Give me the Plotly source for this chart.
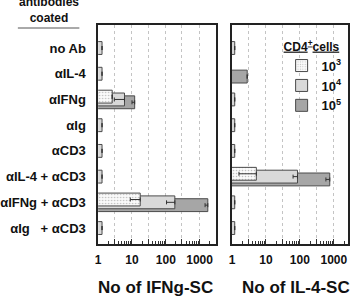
import plotly.graph_objects as go

W, H = 354, 298

rows = ["no Ab", "αIL-4", "αIFNg", "αIg", "αCD3", "αIL-4 + αCD3",
        "αIFNg + αCD3", "αIg\u00a0\u00a0\u00a0+ αCD3"]
row_pos = list(range(len(rows)))

# No of IFNg-SC (panel 1)
ifng_1e3 = [0, 0, 2.6, 0, 0, 0, 17.5, 0]
ifng_1e4 = [1.3, 1.3, 6.0, 1.3, 1.3, 1.3, 185, 1.3]
ifng_1e5 = [0, 0, 12, 0, 0, 0, 1750, 0]
ifng_1e3_err = [0, 0, 0, 0, 0, 0, 8.6, 0]
ifng_1e4_err = [0, 0, 3.0, 0, 0, 0, 80, 0]
ifng_1e5_err = [0, 0, 2.0, 0, 0, 0, 300, 0]

# No of IL-4-SC (panel 2)
il4_1e3 = [0, 0, 0, 0, 0, 5.2, 0, 0]
il4_1e4 = [1.2, 0, 1.2, 1.2, 1.2, 85, 1.2, 1.2]
il4_1e5 = [0, 2.8, 0, 0, 0, 760, 0, 0]
il4_1e3_err = [0, 0, 0, 0, 0, 3.6, 0, 0]
il4_1e4_err = [0, 0, 0, 0, 0, 22, 0, 0]
il4_1e5_err = [0, 0, 0, 0, 0, 175, 0, 0]

series_names = ["10<sup>3</sup>", "10<sup>4</sup>", "10<sup>5</sup>"]
x_ticks = [1, 3, 10, 30, 100, 300, 1000]
x_ticktext = ["1", "", "10", "", "100", "", "1000"]
minor_ticks = [2, 4, 5, 6, 7, 8, 9, 20, 40, 50, 60, 70, 80, 90,
               200, 400, 500, 600, 700, 800, 900, 2000, 3000]

FONT = "Liberation Sans, Arial, Helvetica, sans-serif"

styles = [
    dict(pattern=dict(shape=".", fgcolor="#bdbdbd", bgcolor="#fafafa", size=3, solidity=0.2, fillmode="replace")),
    dict(color="#d9d9d9"),
    dict(color="#a6a6a6"),
]
offsets = [-0.36, -0.25, -0.14]

fig = go.Figure()

panels = [
    ("x", "y", [ifng_1e3, ifng_1e4, ifng_1e5], [ifng_1e3_err, ifng_1e4_err, ifng_1e5_err], True),
    ("x2", "y2", [il4_1e3, il4_1e4, il4_1e5], [il4_1e3_err, il4_1e4_err, il4_1e5_err], False),
]

for xa, ya, vals, errs, show in panels:
    for i in [2, 1, 0]:  # draw 10^5 at back, 10^3 in front
        fig.add_trace(go.Bar(
            y=row_pos, x=vals[i], orientation="h",
            xaxis=xa, yaxis=ya,
            name=series_names[i], legendrank=i + 1,
            showlegend=show,
            width=0.5, offset=offsets[i],
            marker=dict(line=dict(color="#4a4a4a", width=1), **styles[i]),
            error_x=dict(type="data", symmetric=False, array=[0] * len(rows),
                         arrayminus=errs[i], color="#333333", thickness=1, width=2),
        ))

def px_x(p):
    return p / W

def px_y(p):
    return 1 - p / H

yrange = [7.62, -0.895]
xaxis_common = dict(
    type="log", tickmode="array", tickvals=x_ticks, ticktext=x_ticktext,
    ticks="inside", ticklen=5, tickwidth=1, tickcolor="#333",
    showgrid=True, gridcolor="#c4c4c4", griddash="dot", gridwidth=1,
    showline=True, mirror=True, linecolor="#222", linewidth=1.5,
    minor=dict(ticks="inside", ticklen=3, tickwidth=1, tickcolor="#333",
               tickvals=minor_ticks, showgrid=False),
    tickfont=dict(family=FONT, size=12, color="#111", weight="bold"),
    ticklabelstandoff=4, zeroline=False,
)

fig.update_layout(
    width=W, height=H,
    margin=dict(l=0, r=0, t=0, b=0),
    paper_bgcolor="white", plot_bgcolor="white",
    barmode="overlay",
    font=dict(family=FONT, color="#111"),
    xaxis=dict(domain=[px_x(96), px_x(215)], range=[0, 3.49], anchor="y", **xaxis_common),
    xaxis2=dict(domain=[px_x(231), px_x(348)], range=[0, 3.42], anchor="y2", **xaxis_common),
    yaxis=dict(domain=[px_y(244), px_y(25)], range=yrange, anchor="x",
               tickmode="array", tickvals=row_pos, ticktext=rows,
               ticks="", showgrid=False, zeroline=False,
               showline=True, mirror=True, linecolor="#222", linewidth=1.5,
               tickfont=dict(family=FONT, size=13, color="#111", weight="bold"),
               ticklabelstandoff=8),
    yaxis2=dict(domain=[px_y(244), px_y(25)], range=yrange, anchor="x2",
                showticklabels=False, ticks="", showgrid=False, zeroline=False,
                showline=True, mirror=True, linecolor="#222", linewidth=1.5),
    legend=dict(x=px_x(281), y=px_y(35), xanchor="left", yanchor="top",
                bgcolor="rgba(0,0,0,0)",
                title=dict(text="<u>CD4<sup>+</sup>cells</u>",
                           font=dict(family=FONT, size=12, weight="bold")),
                font=dict(family=FONT, size=13, weight="bold"),
                tracegroupgap=0, itemwidth=30),
    annotations=[
        dict(text="antibodies<br>coated", x=px_x(46), y=px_y(27), xref="paper", yref="paper",
             xanchor="center", yanchor="bottom", showarrow=False,
             font=dict(family=FONT, size=12, weight="bold")),
        dict(text="No of IFNg-SC", x=px_x(154), y=px_y(287), xref="paper", yref="paper",
             xanchor="center", yanchor="middle", showarrow=False,
             font=dict(family=FONT, size=17, weight="bold")),
        dict(text="No of IL-4-SC", x=px_x(296), y=px_y(287), xref="paper", yref="paper",
             xanchor="center", yanchor="middle", showarrow=False,
             font=dict(family=FONT, size=17, weight="bold")),
    ],
    shapes=[
        dict(type="line", xref="paper", yref="paper", x0=px_x(15), x1=px_x(77),
             y0=px_y(28), y1=px_y(28), line=dict(color="#555", width=1)),
    ],
)

fig.write_html("out.html")
